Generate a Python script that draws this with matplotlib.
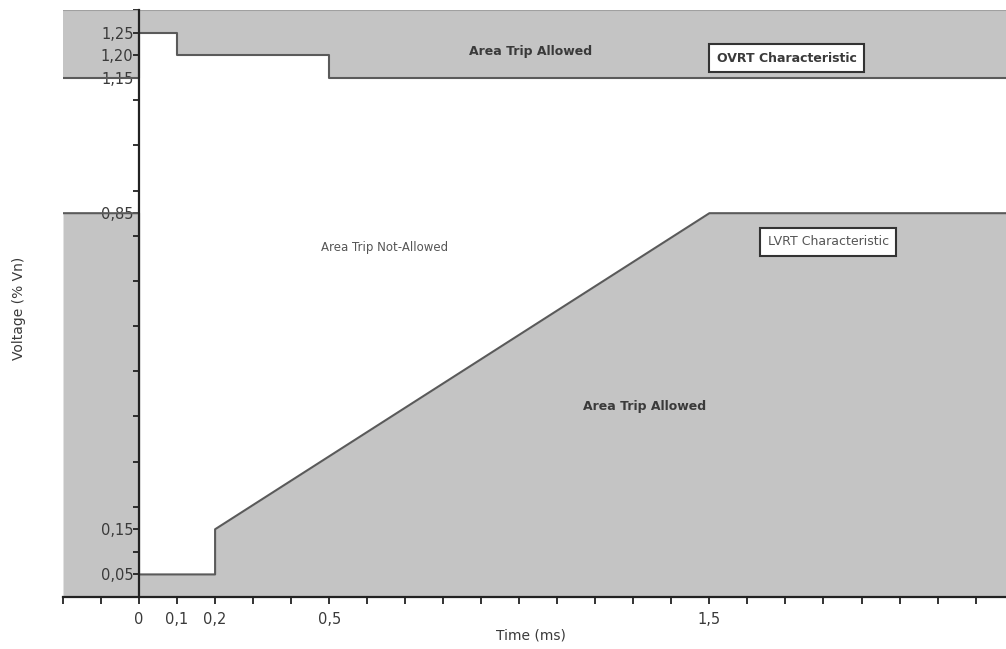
import matplotlib.pyplot as plt

# LVRT / OVRT characteristic curves (time in ms, voltage in p.u.)
lvrt_t = [-0.2, 0, 0, 0.2, 0.2, 1.5, 2.28]
lvrt_v = [0.85, 0.85, 0.05, 0.05, 0.15, 0.85, 0.85]
ovrt_t = [-0.2, 0, 0, 0.1, 0.1, 0.5, 0.5, 2.28]
ovrt_v = [1.15, 1.15, 1.25, 1.25, 1.20, 1.20, 1.15, 1.15]

x_ticks = [-0.2, -0.1, 0, 0.1, 0.2, 0.3, 0.4, 0.5, 0.6, 0.7, 0.8, 0.9, 1.0, 1.1,
           1.2, 1.3, 1.4, 1.5, 1.6, 1.7, 1.8, 1.9, 2.0, 2.1, 2.2]
x_labels = {0: "0", 0.1: "0,1", 0.2: "0,2", 0.5: "0,5", 1.5: "1,5"}
y_ticks = [0.05, 0.1, 0.15, 0.2, 0.3, 0.4, 0.5, 0.6, 0.7, 0.8, 0.85, 0.9, 1.0,
           1.1, 1.15, 1.2, 1.25, 1.3]
y_labels = {0.05: "0,05", 0.15: "0,15", 0.85: "0,85", 1.15: "1,15", 1.2: "1,20", 1.25: "1,25"}

y_top = 1.30
grey = "#c4c4c4"
edge = "#5a5a5a"
txt = "#3a3a3a"

fig = plt.figure(figsize=(10.06, 6.49), dpi=100)
ax = fig.add_axes([63 / 1006, 52 / 649, 943 / 1006, 587 / 649])

ax.fill_between(lvrt_t, 0, lvrt_v, color=grey, lw=0)
ax.fill_between(ovrt_t, ovrt_v, y_top, color=grey, lw=0)
ax.plot(lvrt_t, lvrt_v, color=edge, lw=1.5)
ax.plot(ovrt_t, ovrt_v, color=edge, lw=1.5)
ax.axhline(y_top, color="#a0a0a0", lw=1.5)

ax.set_xlim(-0.2, 2.28)
ax.set_ylim(0, y_top)

for s in ["top", "right"]:
    ax.spines[s].set_visible(False)
ax.spines["left"].set_position(("data", 0))
ax.spines["left"].set_color("#222222")
ax.spines["left"].set_linewidth(1.6)
ax.spines["bottom"].set_color("#222222")
ax.spines["bottom"].set_linewidth(1.6)

ax.set_xticks(x_ticks)
ax.set_xticklabels([x_labels.get(round(t, 2), "") for t in x_ticks])
ax.set_yticks(y_ticks)
ax.set_yticklabels([y_labels.get(round(t, 2), "") for t in y_ticks])
ax.tick_params(axis="x", direction="out", length=5, width=1.3, color="#222222",
               labelsize=10.5, labelcolor=txt, pad=6)
ax.tick_params(axis="y", direction="out", length=4, width=1.3, color="#222222",
               labelsize=10.5, labelcolor=txt, pad=0)

ax.text(-0.316, 0.64, "Voltage (% Vn)", rotation=90, ha="center", va="center",
        fontsize=10, color=txt)
ax.text(1.03, -0.085, "Time (ms)", ha="center", va="center", fontsize=10, color=txt)

ax.text(1.03, 1.209, "Area Trip Allowed", ha="center", va="center", fontsize=9,
        fontweight="bold", color=txt)
ax.text(0.645, 0.774, "Area Trip Not-Allowed", ha="center", va="center", fontsize=8.5,
        color="#555555")
ax.text(1.33, 0.422, "Area Trip Allowed", ha="center", va="center", fontsize=9,
        fontweight="bold", color=txt)
ax.text(1.703, 1.193, "OVRT Characteristic", ha="center", va="center", fontsize=9,
        fontweight="bold", color=txt,
        bbox=dict(boxstyle="square,pad=0.6", fc="white", ec="#333333", lw=1.5))
ax.text(1.813, 0.787, "LVRT Characteristic", ha="center", va="center", fontsize=9,
        color="#555555",
        bbox=dict(boxstyle="square,pad=0.6", fc="white", ec="#333333", lw=1.5))

fig.savefig("out.png", dpi=100)
